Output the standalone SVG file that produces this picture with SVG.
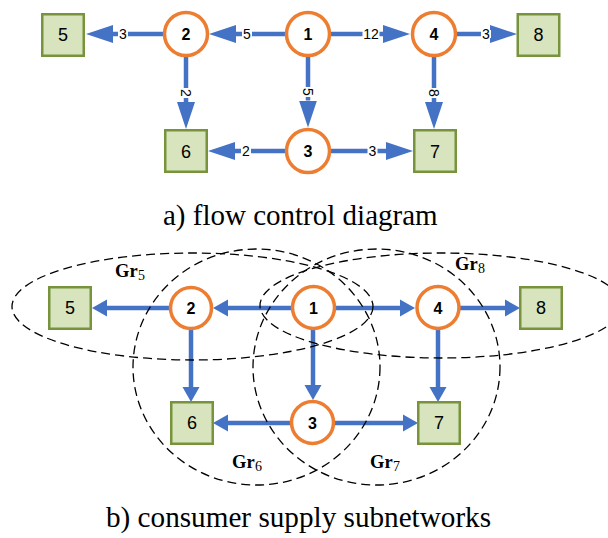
<svg xmlns="http://www.w3.org/2000/svg" width="608" height="538" viewBox="0 0 608 538">
  <style>
    .hub { fill: #ffffff; stroke: #ed7d31; stroke-width: 3.5; }
    .sink { fill: #d7e4bd; stroke: #77933c; stroke-width: 2.5; }
    .hubt { font-family: "Liberation Sans", Arial, sans-serif; font-weight: bold; font-size: 16px; text-anchor: middle; fill: #000; }
    .sinkt { font-family: "Liberation Sans", Arial, sans-serif; font-size: 18px; text-anchor: middle; fill: #000; }
    .flow { stroke: #4472c4; stroke-width: 4.5; fill: none; }
    .big { marker-end: url(#headBig); }
    .small { marker-end: url(#headSmall); }
    .wbg { fill: #ffffff; }
    .ew { font-family: "Liberation Sans", Arial, sans-serif; font-size: 14px; text-anchor: middle; fill: #000; }
    .zone { fill: none; stroke: #000; stroke-width: 1.3; stroke-dasharray: 9 5; }
    .gr { font-family: "Liberation Serif", "Times New Roman", serif; font-weight: bold; font-size: 18.5px; fill: #000; }
    .sub { font-weight: normal; font-size: 14px; }
    .cap { font-family: "Liberation Serif", "Times New Roman", serif; fill: #000; }
  </style>
  <defs>
    <marker id="headBig" markerUnits="userSpaceOnUse" markerWidth="28" markerHeight="20" refX="0" refY="10" orient="auto" viewBox="0 0 28 20">
      <path d="M0,1 L27,10 L0,19 z" fill="#4472c4"/>
    </marker>
    <marker id="headSmall" markerUnits="userSpaceOnUse" markerWidth="16" markerHeight="18" refX="0" refY="9" orient="auto" viewBox="0 0 16 18">
      <path d="M0,0.5 L15,9 L0,17.5 z" fill="#4472c4"/>
    </marker>
  </defs>

  <!-- (a) flow control diagram: connectors -->
  <g id="flow-edges">
    <line class="flow big" x1="163" y1="34" x2="113" y2="34"/>
    <line class="flow big" x1="285" y1="34" x2="236" y2="34"/>
    <line class="flow big" x1="331" y1="34" x2="383" y2="34"/>
    <line class="flow big" x1="456" y1="34" x2="490" y2="34"/>
    <line class="flow big" x1="186" y1="57" x2="186" y2="102"/>
    <line class="flow big" x1="308" y1="57" x2="308" y2="100.5"/>
    <line class="flow big" x1="434" y1="57" x2="434" y2="102"/>
    <line class="flow big" x1="285" y1="151" x2="235" y2="151"/>
    <line class="flow big" x1="331" y1="151" x2="386" y2="151"/>
    <!-- edge weights -->
    <rect class="wbg" x="118" y="30" width="10" height="8"/>
    <text class="ew" x="123" y="39">3</text>
    <rect class="wbg" x="242" y="30" width="10" height="8"/>
    <text class="ew" x="247" y="39">5</text>
    <rect class="wbg" x="362.5" y="30" width="17" height="8"/>
    <text class="ew" x="371" y="39">12</text>
    <rect class="wbg" x="481" y="30" width="10" height="8"/>
    <text class="ew" x="486" y="39">3</text>
    <rect class="wbg" x="182" y="88" width="8" height="10"/>
    <text class="ew" transform="translate(186,93) rotate(90)" x="0" y="5">2</text>
    <rect class="wbg" x="304" y="87" width="8" height="10"/>
    <text class="ew" transform="translate(308,92) rotate(90)" x="0" y="5">5</text>
    <rect class="wbg" x="430" y="88" width="8" height="10"/>
    <text class="ew" transform="translate(434,93) rotate(90)" x="0" y="5">8</text>
    <rect class="wbg" x="241" y="147" width="10" height="8"/>
    <text class="ew" x="246" y="156">2</text>
    <rect class="wbg" x="367.5" y="147" width="10" height="8"/>
    <text class="ew" x="372.5" y="156">3</text>
  </g>

  <!-- (a) nodes -->
  <g id="a-n1"><circle class="hub" cx="308" cy="34" r="21.5"/><text class="hubt" x="308" y="40">1</text></g>
  <g id="a-n2"><circle class="hub" cx="186" cy="34" r="21.5"/><text class="hubt" x="186" y="40">2</text></g>
  <g id="a-n3"><circle class="hub" cx="308" cy="151" r="21.5"/><text class="hubt" x="308" y="157">3</text></g>
  <g id="a-n4"><circle class="hub" cx="434" cy="34" r="21.5"/><text class="hubt" x="434" y="40">4</text></g>
  <g id="a-n5"><rect class="sink" x="42.25" y="14.25" width="41.5" height="41.5"/><text class="sinkt" x="63" y="40.5">5</text></g>
  <g id="a-n6"><rect class="sink" x="165.25" y="130.25" width="41.5" height="41.5"/><text class="sinkt" x="186" y="157.5">6</text></g>
  <g id="a-n7"><rect class="sink" x="414.25" y="130.25" width="41.5" height="41.5"/><text class="sinkt" x="435" y="157.5">7</text></g>
  <g id="a-n8"><rect class="sink" x="517.75" y="14.25" width="41.5" height="41.5"/><text class="sinkt" x="538.5" y="40.5">8</text></g>

  <text class="cap" x="163" y="225" font-size="29">a) flow control diagram</text>

  <!-- (b) consumer supply subnetworks: connectors -->
  <g id="supply-edges">
    <line class="flow small" x1="170" y1="308" x2="107" y2="308"/>
    <line class="flow small" x1="292" y1="308" x2="228" y2="308"/>
    <line class="flow small" x1="335" y1="308" x2="400" y2="308"/>
    <line class="flow small" x1="460" y1="308" x2="505" y2="308"/>
    <line class="flow small" x1="191" y1="329" x2="191" y2="387"/>
    <line class="flow small" x1="313" y1="329" x2="313" y2="385"/>
    <line class="flow small" x1="438" y1="329" x2="438" y2="387"/>
    <line class="flow small" x1="291" y1="423" x2="228" y2="423"/>
    <line class="flow small" x1="334" y1="423" x2="403" y2="423"/>
  </g>

  <!-- subnetwork boundaries -->
  <g id="subnetworks">
    <ellipse class="zone" cx="192.5" cy="306.5" rx="180.5" ry="53.5"/>
    <ellipse class="zone" cx="441" cy="305.5" rx="181" ry="52.5"/>
    <ellipse class="zone" cx="256.5" cy="367" rx="123.5" ry="118"/>
    <ellipse class="zone" cx="376.5" cy="367" rx="123.5" ry="118"/>
    <text class="gr" x="115" y="277">Gr<tspan class="sub" dx="0.5" dy="3">5</tspan></text>
    <text class="gr" x="455" y="270">Gr<tspan class="sub" dx="0.5" dy="3">8</tspan></text>
    <text class="gr" x="232" y="468">Gr<tspan class="sub" dx="0.5" dy="3">6</tspan></text>
    <text class="gr" x="370" y="468">Gr<tspan class="sub" dx="0.5" dy="3">7</tspan></text>
  </g>

  <!-- (b) nodes -->
  <g id="b-n1"><circle class="hub" cx="313.5" cy="307.5" r="21"/><text class="hubt" x="313.5" y="313.5">1</text></g>
  <g id="b-n2"><circle class="hub" cx="191" cy="308" r="20.5"/><text class="hubt" x="191" y="314">2</text></g>
  <g id="b-n3"><circle class="hub" cx="312.5" cy="422.5" r="21"/><text class="hubt" x="312.5" y="428.5">3</text></g>
  <g id="b-n4"><circle class="hub" cx="438" cy="307.5" r="21"/><text class="hubt" x="438" y="313.5">4</text></g>
  <g id="b-n5"><rect class="sink" x="49.25" y="287.25" width="41.5" height="41.5"/><text class="sinkt" x="70" y="314">5</text></g>
  <g id="b-n6"><rect class="sink" x="171.25" y="402.25" width="41.5" height="41.5"/><text class="sinkt" x="192" y="429">6</text></g>
  <g id="b-n7"><rect class="sink" x="418.25" y="402.25" width="41.5" height="41.5"/><text class="sinkt" x="439" y="429">7</text></g>
  <g id="b-n8"><rect class="sink" x="520.25" y="287.25" width="41.5" height="41.5"/><text class="sinkt" x="541" y="314">8</text></g>

  <text class="cap" x="106" y="527" font-size="29.2">b) consumer supply subnetworks</text>
</svg>
